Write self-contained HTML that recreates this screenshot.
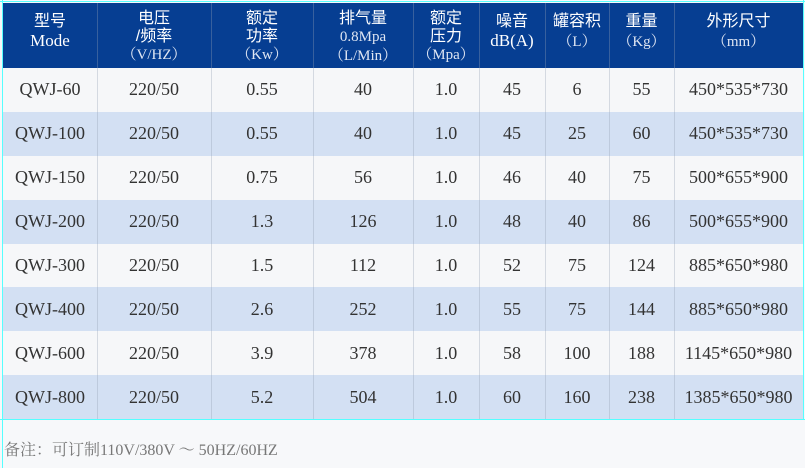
<!DOCTYPE html>
<html><head><meta charset="utf-8"><style>
*{margin:0;padding:0;box-sizing:border-box}
body{width:805px;height:468px;background:#f7f8fa;position:relative;overflow:hidden;font-family:"Liberation Serif","Noto Serif CJK SC",serif;color:#333}
.c{position:absolute;display:flex;align-items:center;justify-content:center;text-align:center;font-size:18px}
.h{color:#fff;line-height:15px;flex-direction:column;font-size:17px}
.h small{font-size:15px;color:#dfe6f3}
.h .k{font-family:"Liberation Sans","Noto Sans CJK SC",sans-serif;font-size:16px}
.vl{position:absolute;width:1px;background:rgba(150,160,180,0.35)}
.cy{position:absolute;background:#5ff}
</style></head><body>
<div style="position:absolute;left:3px;top:3px;width:800px;height:65px;background:#063e92"></div>
<div id="rows"></div>
<div class="cy" style="left:0;top:1px;width:805px;height:1px"></div>
<div class="cy" style="left:2px;top:0;width:1px;height:468px"></div>
<div class="cy" style="left:803px;top:0;width:1px;height:420px"></div>
<div class="cy" style="left:0;top:419px;width:805px;height:1px"></div>
<div style="position:absolute;left:4px;top:437px;font-size:16px;color:#777;font-family:'Liberation Serif','Noto Serif CJK SC',serif">备注：可订制110V/380V ～ 50HZ/60HZ</div>
<script>
const cols=[3,97,211,313,413,479,545,609,674,803];
const hdr=[
['<span class="k">型号</span>','Mode'],
['<span class="k">电压</span>','<span class="k">/频率</span>','<small>（V/HZ）</small>'],
['<span class="k">额定</span>','<span class="k">功率</span>','<small>（Kw）</small>'],
['<span class="k">排气量</span>','<small>0.8Mpa</small>','<small>（L/Min）</small>'],
['<span class="k">额定</span>','<span class="k">压力</span>','<small>（Mpa）</small>'],
['<span class="k">噪音</span>','dB(A)'],
['<span class="k">罐容积</span>','<small>（L）</small>'],
['<span class="k">重量</span>','<small>（Kg）</small>'],
['<span class="k">外形尺寸</span>','<small>（mm）</small>']];
const data=[
['QWJ-60','220/50','0.55','40','1.0','45','6','55','450*535*730'],
['QWJ-100','220/50','0.55','40','1.0','45','25','60','450*535*730'],
['QWJ-150','220/50','0.75','56','1.0','46','40','75','500*655*900'],
['QWJ-200','220/50','1.3','126','1.0','48','40','86','500*655*900'],
['QWJ-300','220/50','1.5','112','1.0','52','75','124','885*650*980'],
['QWJ-400','220/50','2.6','252','1.0','55','75','144','885*650*980'],
['QWJ-600','220/50','3.9','378','1.0','58','100','188','1145*650*980'],
['QWJ-800','220/50','5.2','504','1.0','60','160','238','1385*650*980']];
let h='';
for(let i=0;i<9;i++){
 const two=hdr[i].length==2;
 h+=`<div class="c h" style="left:${cols[i]}px;top:5px;width:${cols[i+1]-cols[i]}px;height:60px;justify-content:flex-start;padding-top:${two?6:4}px">${hdr[i].map(x=>'<div style="line-height:'+(two?19:17)+'px">'+x+'</div>').join('')}</div>`;
}
const rh=(419-68)/8;
for(let r=0;r<8;r++){
 const y=68+r*rh;
 h+=`<div style="position:absolute;left:3px;top:${y}px;width:800px;height:${rh}px;background:${r%2?'#d3e0f3':'#f6f7f9'}"></div>`;
 for(let i=0;i<9;i++)h+=`<div class="c" style="left:${cols[i]}px;top:${y}px;width:${cols[i+1]-cols[i]}px;height:${rh}px">${data[r][i]}</div>`;
}
for(let i=1;i<9;i++)h+=`<div class="vl" style="left:${cols[i]}px;top:3px;height:416px"></div>`;
document.getElementById('rows').innerHTML=h;
</script>
</body></html>
